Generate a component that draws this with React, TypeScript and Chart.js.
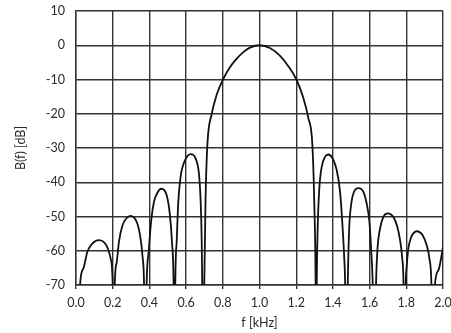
import React, { useEffect, useRef } from "react";
import { Chart, registerables } from "chart.js";
Chart.register(...registerables);

// Frequency (kHz), lobe by lobe; -100 marks nulls below the axis
const freqKHz = [
  0.012, 0.022, 0.040, 0.062, 0.089, 0.125, 0.156, 0.174, 0.189, 0.200,
  0.205,
  0.211, 0.222, 0.234, 0.253, 0.275, 0.297, 0.331, 0.349, 0.362, 0.371,
  0.378,
  0.385, 0.396, 0.411, 0.425, 0.444, 0.466, 0.494, 0.510, 0.523, 0.532,
  0.537,
  0.541, 0.549, 0.558, 0.570, 0.594, 0.625, 0.652, 0.670, 0.679, 0.685, 0.688,
  0.694,
  0.699, 0.706, 0.716, 0.739, 0.767, 0.801, 0.839, 0.876, 0.912, 0.948, 1.000,
  1.057, 1.112, 1.157, 1.201, 1.239, 1.266, 1.288, 1.298, 1.306,
  1.309,
  1.312, 1.317, 1.326, 1.339, 1.357, 1.375, 1.399, 1.421, 1.439, 1.451, 1.461, 1.467,
  1.474,
  1.481, 1.488, 1.499, 1.515, 1.539, 1.566, 1.584, 1.599, 1.609, 1.617,
  1.626,
  1.635, 1.642, 1.657, 1.675, 1.698, 1.729, 1.751, 1.766, 1.777, 1.785,
  1.791,
  1.797, 1.802, 1.811, 1.824, 1.857, 1.889, 1.911, 1.926, 1.937,
  1.946,
  1.956, 1.975, 2.000,
];
const levelDB = [
  -100, -70, -65.2, -60.3, -57.9, -56.9, -57.7, -59.4, -62.3, -70,
  -100,
  -70, -63.3, -57.4, -52.6, -50.5, -49.8, -51.6, -55.5, -61.3, -70,
  -100,
  -70, -60.3, -50.6, -45.7, -43.0, -41.9, -43.8, -48.7, -57.4, -70,
  -100,
  -70, -56.9, -45.3, -38.4, -33.6, -31.8, -33.1, -37.5, -45.3, -56.9, -70,
  -100,
  -70, -45, -29, -20.2, -14.4, -10, -6.4, -3.9, -2.0, -0.7, 0,
  -0.8, -3.1, -6.1, -10, -15.4, -21.2, -29, -45, -70,
  -100,
  -70, -53.5, -41.8, -35.5, -32.6, -31.9, -33.1, -36.5, -42.8, -51.6, -61.3, -70,
  -100,
  -70, -54.5, -46.7, -42.8, -41.7, -42.8, -46.2, -51.6, -60.3, -70,
  -100,
  -70, -60.3, -53.5, -50.1, -49.1, -50.1, -53.0, -56.9, -61.8, -70,
  -100,
  -70, -64.7, -59.4, -56.4, -54.3, -55.5, -58.4, -62.3, -70,
  -100,
  -70, -65.7, -59,
];

const xTickValues = [0, 0.2, 0.4, 0.6, 0.8, 1.0, 1.2, 1.4, 1.6, 1.8, 2.0];
const yTickValues = [-70, -60, -50, -40, -30, -20, -10, 0, 10];
const xTitle = "f [kHz]";
const yTitle = "B(f) [dB]";

export default function App() {
  const ref = useRef<HTMLCanvasElement | null>(null);
  useEffect(() => {
    if (!ref.current) return;
    const gridColor = "#333333";
    const textColor = "#2a2a2a";
    const font = { family: "Lato", size: 12.5 };
    const chart = new Chart(ref.current, {
      type: "line",
      data: {
        datasets: [
          {
            data: freqKHz.map((f, i) => ({ x: f, y: levelDB[i] })),
            borderColor: "#111111",
            borderWidth: 1.8,
            pointRadius: 0,
            cubicInterpolationMode: "monotone",
            fill: false,
          },
        ],
      },
      options: {
        animation: false,
        responsive: true,
        maintainAspectRatio: false,
        layout: { padding: { top: 11, right: 8, left: 0, bottom: 0 } },
        plugins: { legend: { display: false }, tooltip: { enabled: false } },
        scales: {
          x: {
            type: "linear",
            min: 0,
            max: 2,
            afterBuildTicks: (scale: any) => {
              scale.ticks = xTickValues.map((v) => ({ value: v }));
            },
            afterFit: (scale: any) => {
              scale.height = 48;
              scale.paddingLeft = 0;
              scale.paddingRight = 0;
            },
            ticks: {
              font,
              color: textColor,
              padding: 6,
              maxRotation: 0,
              callback: (v: any) => Number(v).toFixed(1),
            },
            grid: { color: gridColor, lineWidth: 1.4, tickLength: 4, tickColor: gridColor },
            border: { color: gridColor, width: 1.4 },
            title: { display: true, text: xTitle, font, color: textColor, padding: { top: 2, bottom: 3 } },
          },
          y: {
            type: "linear",
            min: -70,
            max: 10,
            afterBuildTicks: (scale: any) => {
              scale.ticks = yTickValues.map((v) => ({ value: v }));
            },
            afterFit: (scale: any) => {
              scale.width = 76;
              scale.paddingTop = 0;
              scale.paddingBottom = 0;
            },
            ticks: { font, color: textColor, padding: 11 },
            grid: { color: gridColor, lineWidth: 1.4, drawTicks: false },
            border: { color: gridColor, width: 1.4 },
            title: { display: true, text: yTitle, font, color: textColor, padding: { top: 13, bottom: 4 } },
          },
        },
      },
    });
    return () => chart.destroy();
  }, []);
  return (
    <div style={{ position: "fixed", left: 0, top: 0, width: 451, height: 333, background: "#fff" }}>
      <canvas ref={ref} />
    </div>
  );
}
